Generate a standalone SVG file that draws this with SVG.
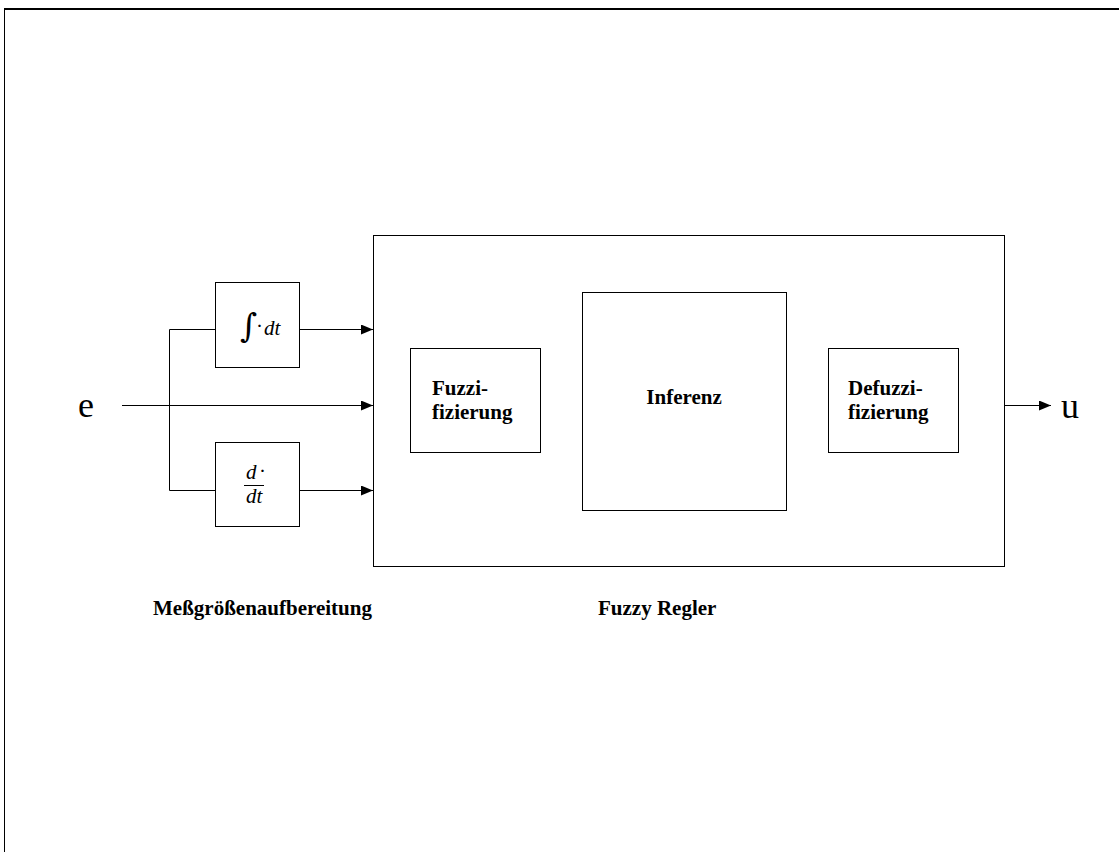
<svg xmlns="http://www.w3.org/2000/svg" width="1119" height="852" viewBox="0 0 1119 852">
<defs>
<style>
.box{fill:#fff;stroke:#000;stroke-width:1}
.ln{fill:none;stroke:#000;stroke-width:1}
.lbl{font-family:"Liberation Serif","Times New Roman",serif;font-weight:bold;font-size:21px;fill:#000}
.big{font-family:"Liberation Serif","Times New Roman",serif;font-size:36px;fill:#000}
.math{font-family:"Liberation Serif","Times New Roman",serif;font-style:italic;font-size:21px;fill:#000}
.dot{font-family:"Liberation Serif","Times New Roman",serif;font-size:21px;fill:#000}
</style>
<marker id="arr" markerWidth="12" markerHeight="10" refX="12" refY="5" orient="auto" markerUnits="userSpaceOnUse">
<path d="M0,0 L12,5 L0,10 Z" fill="#000"/>
</marker>
</defs>
<rect x="0" y="0" width="1119" height="852" fill="#fff"/>
<g id="frame">
<line x1="4.5" y1="9" x2="4.5" y2="852" class="ln"/>
<line x1="4" y1="9" x2="1119" y2="9" stroke="#000" stroke-width="2"/>
</g>
<g id="fuzzy-regler">
<rect x="373.5" y="235.5" width="631" height="331" class="box"/>
<text x="598" y="615" class="lbl">Fuzzy Regler</text>
</g>
<g id="fuzzifizierung">
<rect x="410.5" y="348.5" width="130" height="104" class="box"/>
<text x="432" y="395" class="lbl">Fuzzi-</text>
<text x="432" y="419" class="lbl">fizierung</text>
</g>
<g id="inferenz">
<rect x="582.5" y="292.5" width="204" height="218" class="box"/>
<text x="684" y="404" class="lbl" text-anchor="middle">Inferenz</text>
</g>
<g id="defuzzifizierung">
<rect x="828.5" y="348.5" width="130" height="104" class="box"/>
<text x="848" y="395" class="lbl">Defuzzi-</text>
<text x="848" y="419" class="lbl">fizierung</text>
</g>
<g id="integral">
<rect x="215.5" y="282.5" width="84" height="85" class="box"/>
<text x="240" y="337" font-family="DejaVu Serif,serif" font-size="33" fill="#000">∫</text>
<text x="256" y="333" class="dot">·</text>
<text x="264" y="335" class="math">dt</text>
</g>
<g id="derivative">
<rect x="215.5" y="442.5" width="84" height="84" class="box"/>
<text x="246" y="479" class="math">d</text>
<text x="259" y="478" class="dot">·</text>
<line x1="244" y1="485.5" x2="264" y2="485.5" class="ln"/>
<text x="246" y="503" class="math">dt</text>
</g>
<g id="messgroessen">
<text x="153" y="615" class="lbl">Meßgrößenaufbereitung</text>
</g>
<g id="input-e">
<text x="78" y="417" class="big">e</text>
</g>
<g id="output-u">
<text x="1061" y="418" class="big">u</text>
</g>
<g id="connectors">
<line x1="122" y1="405.5" x2="373" y2="405.5" class="ln" marker-end="url(#arr)"/>
<path d="M215,329.5 H169.5 V490.5 H215" class="ln"/>
<line x1="299" y1="329.5" x2="373" y2="329.5" class="ln" marker-end="url(#arr)"/>
<line x1="299" y1="490.5" x2="373" y2="490.5" class="ln" marker-end="url(#arr)"/>
<line x1="1005" y1="405.5" x2="1051" y2="405.5" class="ln" marker-end="url(#arr)"/>
</g>
</svg>
